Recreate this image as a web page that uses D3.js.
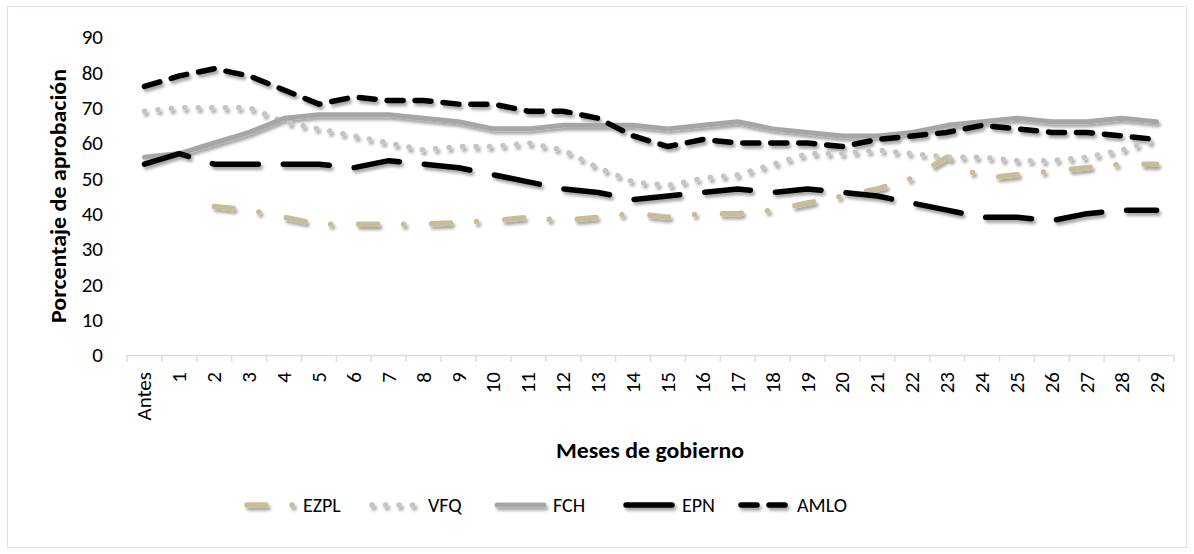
<!DOCTYPE html>
<html><head><meta charset="utf-8">
<script src="https://cdn.jsdelivr.net/npm/d3@7"></script>
<style>
body{margin:0;background:#fff;}
svg{font-family:Carlito,Calibri,Lato,"Open Sans",sans-serif;}
</style></head>
<body><svg id="c" width="1194" height="554"></svg>
<script>
const categories = ["Antes","1","2","3","4","5","6","7","8","9","10","11","12","13","14","15","16","17","18","19","20","21","22","23","24","25","26","27","28","29"];
const yTicks = [0,10,20,30,40,50,60,70,80,90];
const seriesNames = ["EZPL","VFQ","FCH","EPN","AMLO"];
const EZPL = [null,null,42,41,39,37,37,37,37,37.5,38,39,38,39,40,39,40,40,41,43,45,47,50,56,50,51,52,53,54,54];
const VFQ  = [69,70,70,70,66,64,62,60,58,59,59,60,58,53,49,48,50,51,54,57,57,58,57,56,56,55,55,56,58,61];
const FCH  = [56,57,60,63,67,68,68,68,67,66,64,64,65,65,65,64,65,66,64,63,62,62,63,65,66,67,66,66,67,66];
const EPN  = [54,57,54,54,54,54,53,55,54,53,51,49,47,46,44,45,46,47,46,47,46,45,43,41,39,39,38,40,41,41];
const AMLO = [76,79,81,79,75,71,73,72,72,71,71,69,69,67,62,59,61,60,60,60,59,61,62,63,65,64,63,63,62,61];

const styles = {
  EZPL:{color:"#c8bd97",width:5.5,dash:"19 26 0 28"},
  VFQ:{color:"#c4c4c4",width:5.5,dash:"0.1 13.4"},
  FCH:{color:"#a6a6a6",width:5,dash:null},
  EPN:{color:"#000000",width:5.5,dash:"46 25"},
  AMLO:{color:"#000000",width:5.5,dash:"16 12"}
};
const data = {EZPL,VFQ,FCH,EPN,AMLO};
const FONT = "Carlito,Calibri,Lato,sans-serif";

const svg = d3.select("#c");
const defs = svg.append("defs");
const f = defs.append("filter").attr("id","sh").attr("filterUnits","userSpaceOnUse")
  .attr("x",0).attr("y",0).attr("width",1194).attr("height",554);
f.append("feDropShadow").attr("dx",2).attr("dy",3).attr("stdDeviation",1.8).attr("flood-color","#000").attr("flood-opacity",0.35);

// chart border
svg.append("rect").attr("x",7.5).attr("y",6.5).attr("width",1179).attr("height",541)
  .attr("fill","#fff").attr("stroke","#d9e1ee").attr("stroke-width",1);

const x = d3.scaleBand().domain(categories).range([127,1174]).padding(0);
const y = d3.scaleLinear().domain([0,90]).range([355,37]);

// y axis labels (no line)
const ya = svg.append("g").attr("transform","translate(103,0)")
  .call(d3.axisLeft(y).tickValues(yTicks).tickSize(0).tickPadding(0));
ya.select(".domain").remove();
ya.selectAll("text").attr("font-size",21).attr("fill","#000").attr("font-family",FONT);

// x axis
const xa = svg.append("g").attr("transform","translate(0,355)")
  .call(d3.axisBottom(x).tickSize(0).tickPadding(0));
xa.select(".domain").attr("stroke","#d6dfee").attr("stroke-width",1.5);
xa.selectAll(".tick text").attr("font-size",21).attr("fill","#000")
  .attr("font-family",FONT)
  .attr("text-anchor","end").attr("dy",null)
  .attr("transform","translate(7,17) rotate(-90)");
const bounds = categories.map(c=>x(c)).concat([x(categories[categories.length-1])+x.bandwidth()]);
xa.selectAll(".bt").data(bounds).enter().append("line")
  .attr("x1",d=>d).attr("x2",d=>d).attr("y1",0).attr("y2",7)
  .attr("stroke","#d6dfee").attr("stroke-width",1.5);

// axis titles
svg.append("text").attr("transform","translate(66,196) rotate(-90)")
  .attr("text-anchor","middle").attr("font-weight","bold").attr("font-size",22)
  .attr("textLength",254).attr("lengthAdjust","spacingAndGlyphs")
  .text("Porcentaje de aprobación");
svg.append("text").attr("x",650).attr("y",458).attr("text-anchor","middle")
  .attr("font-weight","bold").attr("font-size",22)
  .attr("textLength",188).attr("lengthAdjust","spacingAndGlyphs")
  .text("Meses de gobierno");

// lines
const line = d3.line()
  .defined(d=>d.v!=null)
  .x(d=>x(d.c)+x.bandwidth()/2).y(d=>y(d.v))
  .curve(d3.curveLinear);
const g = svg.append("g").attr("filter","url(#sh)");
seriesNames.forEach(n=>{
  const st = styles[n];
  const pts = categories.map((c,i)=>({c, v:data[n][i]}));
  g.append("path").datum(pts).attr("d",line)
    .attr("fill","none").attr("stroke",st.color).attr("stroke-width",st.width)
    .attr("stroke-linecap","round").attr("stroke-linejoin","round")
    .attr("stroke-dasharray",st.dash);
});

// legend
const legText = [303,428,553,682,797];
const LY = 505;
const lg = svg.append("g").attr("filter","url(#sh)");
const lt = svg.append("g");
seriesNames.forEach((n,i)=>{
  const st = styles[n];
  lg.append("line").attr("x1",legText[i]-56).attr("x2",legText[i]-9).attr("y1",LY).attr("y2",LY)
    .attr("stroke",st.color).attr("stroke-width",st.width).attr("stroke-linecap","round")
    .attr("stroke-dasharray",st.dash);
  lt.append("text").attr("x",legText[i]).attr("y",LY+7).attr("font-size",20).attr("font-family",FONT).text(n);
});
</script></body></html>
